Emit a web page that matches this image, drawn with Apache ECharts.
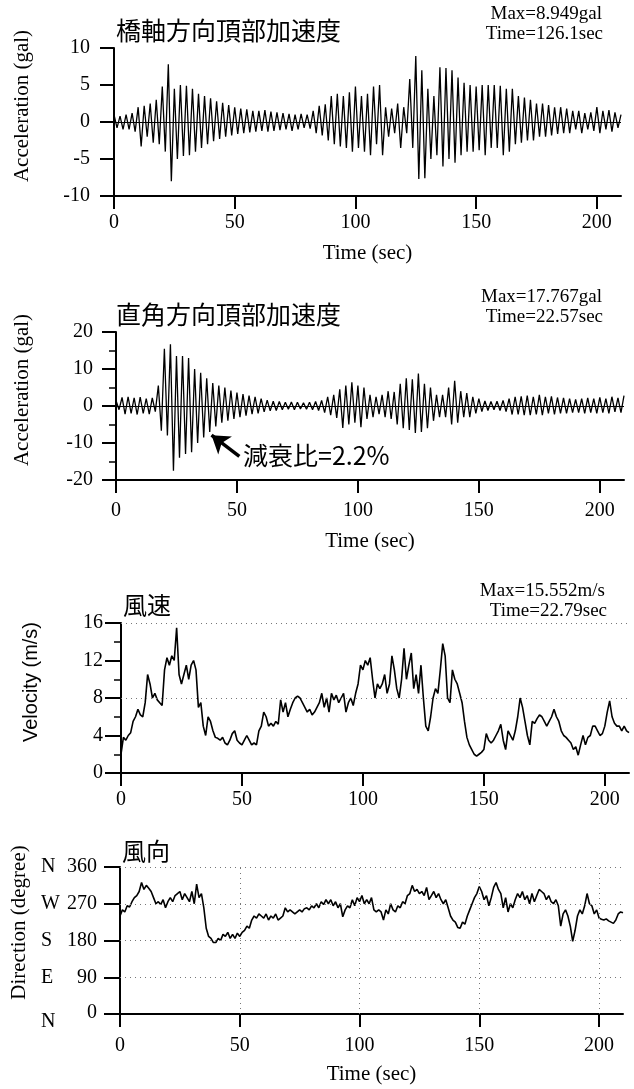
<!DOCTYPE html>
<html><head><meta charset="utf-8">
<script src="https://cdn.jsdelivr.net/npm/echarts@6/dist/echarts.min.js"></script>
<style>html,body{margin:0;padding:0;background:#fff}#c{width:634px;height:1089px}</style>
</head><body><div id="c"></div>
<script>
// ---- DATA ----
const X_TICKS = [0, 50, 100, 150, 200];
const HALF_PERIOD = 1.25; // s between successive extremes of the ~2.5 s oscillation

// 橋軸方向頂部加速度: positive peaks (t = 0, 2.5, 5, ...) and negative peaks (t = 1.25, 3.75, ...)
const axialPos = [1.0,0.8,1.0,1.2,2.0,2.2,2.5,3.0,4.8,7.8,4.5,5.0,4.9,4.5,3.8,3.5,3.2,2.8,2.6,2.3,
  2.0,1.8,1.7,1.5,1.5,1.6,1.4,1.3,1.2,1.1,1.0,1.1,1.0,1.5,2.2,2.4,3.5,3.8,3.5,4.0,
  4.8,3.5,3.8,4.8,5.0,2.0,1.8,2.5,2.0,5.8,8.9,7.0,4.5,3.5,7.4,7.3,7.0,6.0,5.3,5.0,
  4.8,5.0,5.0,5.0,4.9,4.5,4.5,3.5,3.3,3.0,2.5,2.5,2.3,2.0,2.0,1.8,1.5,1.5,1.2,1.3,
  2.0,1.5,1.6,1.3,1.0];
const axialNeg = [-0.8,-1.0,-1.0,-1.3,-3.3,-2.0,-2.8,-3.0,-4.0,-8.0,-5.0,-4.6,-4.5,-4.0,-3.5,-3.0,-2.6,-2.3,-2.0,-1.8,
  -1.6,-1.5,-1.4,-1.3,-1.2,-1.3,-1.2,-1.1,-1.0,-1.2,-1.0,-0.8,-0.9,-1.5,-1.8,-2.5,-3.0,-3.3,-3.5,-4.0,
  -3.5,-4.0,-4.5,-3.0,-4.5,-2.0,-1.5,-3.5,-1.5,-3.5,-7.7,-7.6,-5.0,-4.5,-6.0,-5.0,-5.5,-4.5,-4.0,-4.0,
  -3.8,-4.5,-3.5,-3.5,-4.5,-4.0,-3.0,-2.8,-2.5,-2.5,-2.0,-2.0,-1.8,-1.6,-1.5,-1.5,-1.0,-1.5,-1.0,-1.2,
  -1.5,-1.0,-1.3,-0.8];

// 直角方向頂部加速度
const transPos = [1.5,2.3,2.5,2.2,2.4,2.0,2.2,5.5,15.5,16.7,13.5,13.5,13.0,10.0,9.0,7.5,6.2,5.5,5.0,4.2,
  3.6,3.2,2.8,2.5,2.0,1.6,1.3,1.2,1.0,1.1,1.0,0.9,1.0,1.2,1.5,2.5,3.0,4.5,5.5,6.4,
  5.5,5.0,3.0,2.5,3.0,4.0,3.8,6.0,7.5,7.2,8.8,6.0,5.0,3.0,3.0,5.0,6.8,4.0,3.5,2.5,
  2.0,1.4,1.2,1.3,1.5,2.0,2.5,2.6,2.8,2.5,3.0,2.5,2.6,2.3,2.2,2.0,1.8,2.0,2.2,2.0,
  2.3,2.0,2.5,2.2,2.8];
const transNeg = [-1.0,-2.2,-2.0,-2.3,-2.0,-2.2,-1.5,-6.7,-8.0,-17.5,-14.0,-13.0,-12.5,-10.0,-8.5,-7.0,-5.5,-4.5,-4.0,-3.5,
  -3.0,-2.6,-2.2,-2.0,-1.6,-1.3,-1.2,-1.0,-0.9,-1.0,-0.8,-0.9,-1.0,-1.2,-1.8,-2.5,-3.2,-5.9,-5.0,-4.5,
  -5.7,-3.5,-3.0,-2.2,-3.0,-3.5,-5.0,-6.0,-6.5,-7.3,-7.0,-6.0,-4.0,-3.0,-3.0,-5.0,-4.5,-3.0,-3.0,-2.0,
  -1.5,-1.2,-1.0,-1.2,-1.5,-2.3,-2.3,-2.5,-2.5,-2.3,-2.5,-2.0,-2.3,-2.0,-2.0,-1.8,-1.8,-2.0,-1.8,-2.0,
  -1.8,-2.0,-1.6,-1.8];

// 風速 (m/s), one value per second, t = 0..210
const windSpeed = [2.0,3.8,3.5,4.0,4.3,5.5,6.0,6.8,6.2,6.0,7.5,10.5,9.5,8.0,8.5,7.8,7.5,7.2,11.0,12.3,
  11.5,12.5,12.0,15.5,10.5,9.5,10.5,11.5,10.0,11.5,12.0,11.0,7.0,7.5,5.0,4.0,6.0,5.5,4.5,3.8,
  3.7,3.5,3.8,3.2,3.0,3.5,4.2,4.5,3.5,3.2,3.0,3.5,4.0,3.5,3.0,3.2,3.0,4.5,5.0,6.5,
  6.0,5.0,5.3,5.0,5.5,5.2,7.8,6.5,7.5,6.0,6.8,7.5,8.0,8.2,8.0,7.5,7.0,6.5,6.8,6.2,
  6.5,7.0,7.5,8.5,7.0,8.0,6.5,8.5,7.8,8.3,7.5,8.0,8.5,6.5,7.5,8.0,7.2,8.5,9.5,11.5,
  11.0,12.0,11.5,12.3,10.0,8.0,9.5,9.0,9.5,10.5,8.5,9.5,12.5,11.0,9.0,8.0,10.0,13.3,10.0,11.5,
  12.8,9.0,10.5,8.5,11.5,8.0,5.0,4.5,6.0,8.0,9.0,8.5,11.0,13.8,12.5,8.0,7.5,11.0,10.0,9.5,
  8.5,7.5,5.5,3.8,3.0,2.5,2.0,1.8,2.0,2.2,2.5,4.2,3.5,3.2,3.5,4.0,4.5,5.2,3.5,2.5,
  4.5,4.0,3.5,4.5,6.0,8.0,7.0,5.5,4.0,3.0,5.5,5.3,5.8,6.2,6.0,5.5,5.0,5.5,6.0,6.8,
  6.0,5.5,4.5,4.0,3.8,3.5,3.2,2.5,2.8,1.9,3.0,4.0,3.0,3.8,4.0,5.0,5.0,4.5,4.0,4.2,
  5.0,6.5,7.7,6.0,5.3,5.0,5.0,4.5,5.0,4.5,4.3];

// 風向 (degree), one value per second, t = 0..210
const windDir = [240,255,250,265,262,275,285,290,300,322,305,315,308,300,285,270,275,268,280,260,
  275,285,275,290,295,300,280,295,285,275,300,270,318,285,295,260,210,190,185,175,
  175,185,180,195,190,200,185,195,185,198,190,200,205,215,210,230,240,235,245,240,
  235,245,230,240,235,245,230,235,240,260,250,255,250,245,250,255,250,258,260,255,
  265,260,270,260,275,268,280,270,280,265,275,260,270,238,255,265,260,280,265,285,
  275,290,270,280,270,285,255,250,255,250,230,255,245,270,255,250,265,260,275,270,
  290,295,315,300,305,295,300,290,310,280,290,300,285,295,280,270,280,260,240,230,
  225,212,210,225,220,240,255,270,285,295,312,300,280,290,265,285,310,322,305,295,
  260,285,250,270,260,280,295,285,300,280,290,270,295,275,290,305,300,295,280,290,
  275,270,280,265,215,245,255,240,215,178,205,240,255,245,265,295,270,265,245,255,
  235,232,230,233,228,225,222,230,245,250,248];

const SPEED_GRID = [8, 16];
const DIR_GRID_Y = [90, 180, 270, 360];
const DIR_GRID_X = [50, 100, 150, 200];
const DIR_LETTERS = {0:'N', 90:'E', 180:'S', 270:'W', 360:'N'};
// annotation arrow of 減衰比 (time, gal): tail then tip
const DAMPING_ARROW = [[51, -13.6], [39.5, -7.9]];

// ---- build series data ----
function extremes(pos, neg) {
  const out = [];
  for (let i = 0; i < pos.length; i++) {
    out.push([i * 2 * HALF_PERIOD, pos[i]]);
    if (i < neg.length) out.push([i * 2 * HALF_PERIOD + HALF_PERIOD, neg[i]]);
  }
  return out;
}
const perSecond = arr => arr.map((v, i) => [i, v]);

const SERIF = 'Liberation Serif';
const SANS = 'Liberation Sans';
const CJK = 'Noto Sans CJK JP';

function xAx(gi, margin, withName, gap) {
  return {
    type: 'value', gridIndex: gi, min: 0, max: 210, interval: 50,
    axisLine: {onZero: false, lineStyle: {color: '#000', width: 2}},
    axisTick: {length: 13, customValues: X_TICKS, lineStyle: {color: '#000', width: 2}},
    axisLabel: {customValues: X_TICKS, margin: margin, color: '#000', fontFamily: SERIF, fontSize: 20},
    splitLine: {show: false},
    name: withName ? 'Time (sec)' : '', nameLocation: 'middle', nameGap: gap,
    nameTextStyle: {color: '#000', fontFamily: SERIF, fontSize: 21}
  };
}
function yAx(gi, min, max, interval, opts) {
  return Object.assign({
    type: 'value', gridIndex: gi, min: min, max: max, interval: interval,
    axisLine: {show: true, lineStyle: {color: '#000', width: 2}},
    axisTick: {show: true, length: 14, lineStyle: {color: '#000', width: 2}},
    axisLabel: {color: '#000', fontFamily: SERIF, fontSize: 20, margin: 23},
    splitLine: {show: false},
    nameLocation: 'middle',
    nameTextStyle: {color: '#000', fontFamily: SERIF, fontSize: 21, padding: [0, 0, 0, 32]}
  }, opts);
}
const dotted = {color: '#777', width: 1, type: [1, 4]};
const dirTxt = {fontFamily: SERIF, fontSize: 20, color: '#000'};

const chart = echarts.init(document.getElementById('c'), null, {renderer: 'canvas'});
chart.setOption({
  animation: false,
  backgroundColor: '#fff',
  grid: [
    {left: 114, top: 48, width: 507, height: 148},
    {left: 116, top: 332, width: 508, height: 148},
    {left: 121, top: 623, width: 508, height: 150},
    {left: 120, top: 867, width: 503, height: 147}
  ],
  xAxis: [
    xAx(0, 17, true, 47),
    xAx(1, 21, true, 51),
    xAx(2, 17, false, 0),
    xAx(3, 22, true, 50)
  ],
  yAxis: [
    yAx(0, -10, 10, 5, {name: 'Acceleration (gal)', nameGap: 81,
      axisLabel: {color: '#000', fontFamily: SERIF, fontSize: 20, margin: 24}}),
    yAx(1, -20, 20, 10, {name: 'Acceleration (gal)', nameGap: 83,
      minorTick: {show: true, splitNumber: 2, length: 7, lineStyle: {color: '#000', width: 1.5}}}),
    yAx(2, 0, 16, 4, {name: 'Velocity (m/s)', nameGap: 80,
      nameTextStyle: {color: '#000', fontFamily: SANS, fontSize: 20, padding: [0, 0, 0, 32]},
      axisTick: {show: true, length: 16, lineStyle: {color: '#000', width: 2}},
      axisLabel: {color: '#000', fontFamily: SERIF, fontSize: 20, margin: 18},
      minorTick: {show: true, splitNumber: 2, length: 7, lineStyle: {color: '#000', width: 1.5}}}),
    yAx(3, 0, 360, 90, {name: 'Direction (degree)', nameGap: 82,
      nameTextStyle: {color: '#000', fontFamily: SERIF, fontSize: 21, padding: [0, 0, 0, 36]},
      axisTick: {show: true, length: 16, lineStyle: {color: '#000', width: 2}},
      axisLabel: {margin: 23, color: '#000',
        formatter: v => v === 0
          ? '{ld|' + DIR_LETTERS[v] + '}{n0|' + v + '}'
          : '{l|' + DIR_LETTERS[v] + '}{n|' + v + '}',
        rich: {
          l: Object.assign({width: 20, align: 'left'}, dirTxt),
          n: Object.assign({width: 36, align: 'right'}, dirTxt),
          ld: Object.assign({width: 20, align: 'left', padding: [16, 0, 0, 0]}, dirTxt),
          n0: Object.assign({width: 36, align: 'right', padding: [0, 0, 2, 0]}, dirTxt)
        }}})
  ],
  series: [
    {type: 'line', xAxisIndex: 0, yAxisIndex: 0, data: extremes(axialPos, axialNeg),
      showSymbol: false, lineStyle: {color: '#000', width: 1.3}, silent: true,
      markLine: {silent: true, symbol: 'none', label: {show: false},
        lineStyle: {color: '#000', width: 1, type: 'solid'}, data: [{yAxis: 0}]}},
    {type: 'line', xAxisIndex: 1, yAxisIndex: 1, data: extremes(transPos, transNeg),
      showSymbol: false, lineStyle: {color: '#000', width: 1.3}, silent: true,
      markLine: {silent: true, symbol: 'none', label: {show: false},
        lineStyle: {color: '#000', width: 1, type: 'solid'}, data: [{yAxis: 0}]}},
    {type: 'lines', coordinateSystem: 'cartesian2d', xAxisIndex: 1, yAxisIndex: 1, silent: true,
      symbol: ['none', 'arrow'], symbolSize: 17,
      lineStyle: {color: '#000', width: 3.5, opacity: 1, curveness: 0},
      data: [{coords: DAMPING_ARROW}]},
    {type: 'line', xAxisIndex: 2, yAxisIndex: 2, data: perSecond(windSpeed),
      showSymbol: false, lineStyle: {color: '#000', width: 1.6}, silent: true,
      markLine: {silent: true, symbol: 'none', label: {show: false}, lineStyle: dotted,
        data: SPEED_GRID.map(v => ({yAxis: v}))}},
    {type: 'line', xAxisIndex: 3, yAxisIndex: 3, data: perSecond(windDir),
      showSymbol: false, lineStyle: {color: '#000', width: 1.6}, silent: true,
      markLine: {silent: true, symbol: 'none', label: {show: false}, lineStyle: dotted,
        data: DIR_GRID_Y.map(v => ({yAxis: v})).concat(DIR_GRID_X.map(v => ({xAxis: v})))}}
  ],
  graphic: [
    {type: 'text', x: 116, y: 30, style: {text: '橋軸方向頂部加速度', fontFamily: CJK, fontSize: 25, fill: '#000', verticalAlign: 'middle'}},
    {type: 'text', x: 602, y: 14, style: {text: 'Max=8.949gal', fontFamily: SERIF, fontSize: 19, fill: '#000', align: 'right', verticalAlign: 'middle'}},
    {type: 'text', x: 603, y: 34, style: {text: 'Time=126.1sec', fontFamily: SERIF, fontSize: 19, fill: '#000', align: 'right', verticalAlign: 'middle'}},
    {type: 'text', x: 116, y: 314, style: {text: '直角方向頂部加速度', fontFamily: CJK, fontSize: 25, fill: '#000', verticalAlign: 'middle'}},
    {type: 'text', x: 602, y: 297, style: {text: 'Max=17.767gal', fontFamily: SERIF, fontSize: 19, fill: '#000', align: 'right', verticalAlign: 'middle'}},
    {type: 'text', x: 603, y: 317, style: {text: 'Time=22.57sec', fontFamily: SERIF, fontSize: 19, fill: '#000', align: 'right', verticalAlign: 'middle'}},
    {type: 'text', x: 243, y: 455, style: {text: '減衰比=2.2%', fontFamily: CJK, fontSize: 25, fill: '#000', verticalAlign: 'middle'}},
    {type: 'text', x: 123, y: 605, style: {text: '風速', fontFamily: CJK, fontSize: 24, fill: '#000', verticalAlign: 'middle'}},
    {type: 'text', x: 605, y: 591, style: {text: 'Max=15.552m/s', fontFamily: SERIF, fontSize: 19, fill: '#000', align: 'right', verticalAlign: 'middle'}},
    {type: 'text', x: 607, y: 611, style: {text: 'Time=22.79sec', fontFamily: SERIF, fontSize: 19, fill: '#000', align: 'right', verticalAlign: 'middle'}},
    {type: 'text', x: 122, y: 851, style: {text: '風向', fontFamily: CJK, fontSize: 24, fill: '#000', verticalAlign: 'middle'}}
  ]
});
</script></body></html>
